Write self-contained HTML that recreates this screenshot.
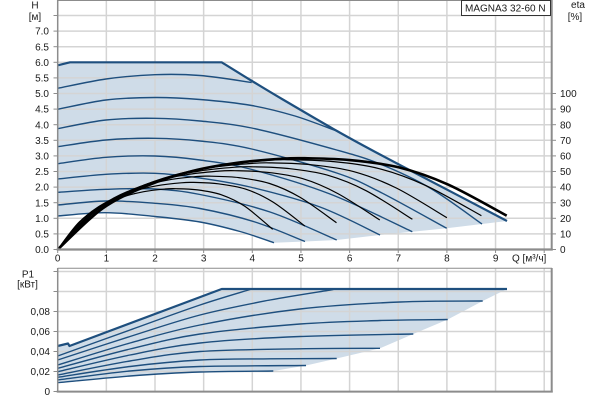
<!DOCTYPE html>
<html><head><meta charset="utf-8">
<style>
html,body{margin:0;padding:0;background:#fff}
svg{display:block}
text{font-family:"Liberation Sans",Arial,sans-serif;font-size:10px;fill:#1a1a1a}
</style></head><body>
<svg id="s" width="600" height="400" viewBox="0 0 600 400" xmlns="http://www.w3.org/2000/svg">
<rect width="600" height="400" fill="#fff"/>
<path id="f1" fill="#cfdce8" stroke="none"/>
<path id="f2" fill="#cfdce8" stroke="none"/>
<g id="grid" stroke="#d4d4d4" stroke-width="1.5"></g>
<g id="blue" fill="none" stroke="#1e4f7e" stroke-width="1.4" stroke-linejoin="round"></g>
<g id="blk" fill="none" stroke="#000" stroke-width="1.2"></g>
<g id="axes" stroke="#8c8c8c" fill="none"></g>

<!-- legend box -->
<rect x="461.5" y="0.5" width="89" height="15" fill="#fff" stroke="#333" stroke-width="1"/>
<text x="465" y="11.5">MAGNA3 32-60 N</text>

<!-- axis titles -->
<text x="35" y="8.5" text-anchor="middle">H</text>
<text x="35" y="20" text-anchor="middle">[м]</text>
<text x="578" y="8" text-anchor="middle">eta</text>
<text x="575" y="20" text-anchor="middle">[%]</text>
<text x="28" y="277.5" text-anchor="middle">P1</text>
<text x="27.5" y="287.5" text-anchor="middle">[кВт]</text>

<!-- left H labels -->
<g text-anchor="end">
<text x="49" y="253.1">0.0</text>
<text x="49" y="237.5">0.5</text>
<text x="49" y="221.9">1.0</text>
<text x="49" y="206.3">1.5</text>
<text x="49" y="190.7">2.0</text>
<text x="49" y="175.1">2.5</text>
<text x="49" y="159.5">3.0</text>
<text x="49" y="143.9">3.5</text>
<text x="49" y="128.3">4.0</text>
<text x="49" y="112.7">4.5</text>
<text x="49" y="97.1">5.0</text>
<text x="49" y="81.5">5.5</text>
<text x="49" y="65.9">6.0</text>
<text x="49" y="50.3">6.5</text>
<text x="49" y="34.7">7.0</text>
</g>

<!-- right eta labels -->
<g>
<text x="560" y="253.1">0</text>
<text x="560" y="237.5">10</text>
<text x="560" y="221.9">20</text>
<text x="560" y="206.3">30</text>
<text x="560" y="190.7">40</text>
<text x="560" y="175.1">50</text>
<text x="560" y="159.5">60</text>
<text x="560" y="143.9">70</text>
<text x="560" y="128.3">80</text>
<text x="560" y="112.7">90</text>
<text x="560" y="97.1">100</text>
</g>

<!-- x labels -->
<g text-anchor="middle">
<text x="57.7" y="261.5">0</text>
<text x="106.4" y="261.5">1</text>
<text x="155" y="261.5">2</text>
<text x="203.7" y="261.5">3</text>
<text x="252.3" y="261.5">4</text>
<text x="301" y="261.5">5</text>
<text x="349.6" y="261.5">6</text>
<text x="398.3" y="261.5">7</text>
<text x="446.9" y="261.5">8</text>
<text x="495.6" y="261.5">9</text>
</g>
<text x="512" y="261.5">Q [м³/ч]</text>

<!-- lower chart labels -->
<g text-anchor="end">
<text x="50" y="395.2">0</text>
<text x="50" y="375.2">0,02</text>
<text x="50" y="355.2">0,04</text>
<text x="50" y="335.2">0,06</text>
<text x="50" y="315.2">0,08</text>
</g>
</svg>
<script>
(function(){
var NS="http://www.w3.org/2000/svg";
function el(g,tag,attrs){var e=document.createElementNS(NS,tag);for(var k in attrs)e.setAttribute(k,attrs[k]);document.getElementById(g).appendChild(e);return e;}
function f(v){return v.toFixed(1);}
function seg(p){var d="";for(var i=0;i<p.length-1;i++){var a=p[i-1]||p[i],b=p[i],c=p[i+1],e=p[i+2]||p[i+1];
 var c1=[b[0]+(c[0]-a[0])/6,b[1]+(c[1]-a[1])/6],c2=[c[0]-(e[0]-b[0])/6,c[1]-(e[1]-b[1])/6];
 d+="C"+f(c1[0])+","+f(c1[1])+" "+f(c2[0])+","+f(c2[1])+" "+f(c[0])+","+f(c[1]);}return d;}
function cr(p){return "M"+f(p[0][0])+","+f(p[0][1])+seg(p);}
var X=function(q){return 57.7+48.65*q;};

// grid
for(var k=1;k<=15;k++){var y=249.5-15.6*k;el("grid","line",{x1:57.7,x2:552,y1:y,y2:y});}
for(var k=1;k<=10;k++){var x=X(k);el("grid","line",{x1:x,x2:x,y1:0,y2:249.5});el("grid","line",{x1:x,x2:x,y1:268,y2:391.5});}
for(var k=1;k<=6;k++){var y=391.5-20*k;el("grid","line",{x1:57.7,x2:552,y1:y,y2:y});}

// top chart speed curves
var maxPts=[[221.7,62.3],[252,81],[282,99],[337,131],[380,154.5],[420,175.5],[507,221]];
var C={
A:[[57.7,88.3],[106,79],[155,74.7],[200,75.5],[251.7,82.5]],
B:[[57.7,109.3],[106,100],[155,97.5],[200,99.5],[251.7,105.5],[295,116],[336.7,131]],
C:[[57.7,128.7],[106,120],[155,118.3],[200,121],[251.7,128],[336.7,150],[380,164],[430,188],[482,224]],
D:[[57.7,146.7],[106,140],[155,138.3],[200,141],[251.7,149],[336.7,173],[380,192],[446.7,228.3]],
E:[[57.7,163.7],[106,157.3],[155,156],[200,160],[250,169],[330,194],[412.3,231.7]],
F:[[57.7,179],[106,174.3],[155,173.3],[200,178],[250,187],[320,207],[380,235]],
G:[[57.7,192.3],[106,189.3],[155,189],[200,194.5],[270,212],[336.7,240]],
H:[[57.7,205],[106,201],[155,203.3],[200,208.5],[255,222],[305,241.5]],
I:[[57.7,216],[106,212.7],[155,216.5],[200,222],[240,231.5],[274,242.7]]
};
var Irev=C.I.slice().reverse();
document.getElementById("f1").setAttribute("d","M57.7,65.3L70,62.3L221.7,62.3"+seg(maxPts)+"L482,224L446.7,228.3L412.3,231.7L380,235L336.7,240L305,241.5L274,242.7"+seg(Irev)+"Z");
for(var n in C){el("blue","path",{d:cr(C[n])});}
el("blue","path",{d:"M57.7,65.3L70,62.3L221.7,62.3"+seg(maxPts),"stroke-width":2.2});

// efficiency curves
var T=[[0,0],[.1,.45],[.2,.70],[.3,.86],[.4,.95],[.5,.995],[.55,1],[.65,.98],[.76,.90],[.87,.71],[1,.37]];
var BK=[[4.42,39,229.3],[5.08,43,226],[5.73,47,222.7],[6.62,50.5,220],[7.29,53,219.3],[8.0,55.5,217.7],[8.71,57.5,215.7],[9.23,58.5,215.7]];
BK.forEach(function(b,i){
 var pts=T.map(function(t){return [X(t[0]*b[0]),249.5-1.56*b[1]*t[1]];});
 pts[pts.length-1][1]=b[2];
 var attrs={d:cr(pts)};
 if(i==BK.length-1)attrs["stroke-width"]=2.6;
 el("blk","path",attrs);
});

// lower chart power curves
var P={
A:[[57.7,356],[130,330],[200,305],[251.7,289]],
B:[[57.7,360],[130,336.5],[200,315],[270,300],[333.3,289.5]],
C:[[57.7,365],[130,343],[200,325],[300,309],[400,302],[482.7,301]],
D:[[57.7,368.3],[130,349],[200,334],[300,324],[380,320.5],[447.7,319.5]],
E:[[57.7,371.7],[130,355],[200,343],[300,336.5],[413.3,334]],
F:[[57.7,375],[130,361],[200,351.5],[300,348.8],[380,348.3]],
G:[[57.7,377.3],[130,366.5],[200,360],[270,358.8],[336.7,358.5]],
H:[[57.7,380],[130,371],[200,366.5],[306,365.5]],
I:[[57.7,382.7],[130,376],[200,372],[273.3,371]]
};
var PIrev=P.I.slice().reverse();
document.getElementById("f2").setAttribute("d","M57.7,346L68,343.5L69.5,346L221.7,289L507,289L482.7,301L447.7,319.5L413.3,334L380,348.3L336.7,358.5L306,365.5L273.3,371"+seg(PIrev)+"Z");
for(var n in P){el("blue","path",{d:cr(P[n])});}
el("blue","path",{d:"M57.7,346L68,343.5L69.5,346L221.7,289L507,289","stroke-width":2.2});

// axes / frames
el("axes","line",{x1:57.7,x2:552,y1:0.5,y2:0.5,"stroke-width":1});
el("axes","line",{x1:57.7,x2:57.7,y1:0,y2:250.5,"stroke-width":1.5});
el("axes","line",{x1:551.7,x2:551.7,y1:0,y2:250.5,"stroke-width":2});
el("axes","line",{x1:56.7,x2:552.7,y1:249.5,y2:249.5,"stroke-width":2.3});
el("axes","line",{x1:57.7,x2:552,y1:268.3,y2:268.3,"stroke-width":1});
el("axes","line",{x1:57.7,x2:57.7,y1:268,y2:392.5,"stroke-width":1.5});
el("axes","line",{x1:551.7,x2:551.7,y1:268,y2:392.5,"stroke-width":2});
el("axes","line",{x1:56.7,x2:552.7,y1:391.6,y2:391.6,"stroke-width":2});
for(var k=0;k<=15;k++){var y=249.5-15.6*k;el("axes","line",{x1:53.5,x2:57.7,y1:y,y2:y,"stroke-width":1});}
for(var k=0;k<=10;k++){var y=249.5-15.6*k;el("axes","line",{x1:551.7,x2:556,y1:y,y2:y,"stroke-width":1});}
for(var k=0;k<=6;k++){var y=391.5-20*k;el("axes","line",{x1:53.5,x2:57.7,y1:y,y2:y,"stroke-width":1});}
for(var k=0;k<=10;k++){var x=X(k);el("axes","line",{x1:x,x2:x,y1:249.5,y2:253,"stroke-width":1});}
})();
</script>
</body></html>
